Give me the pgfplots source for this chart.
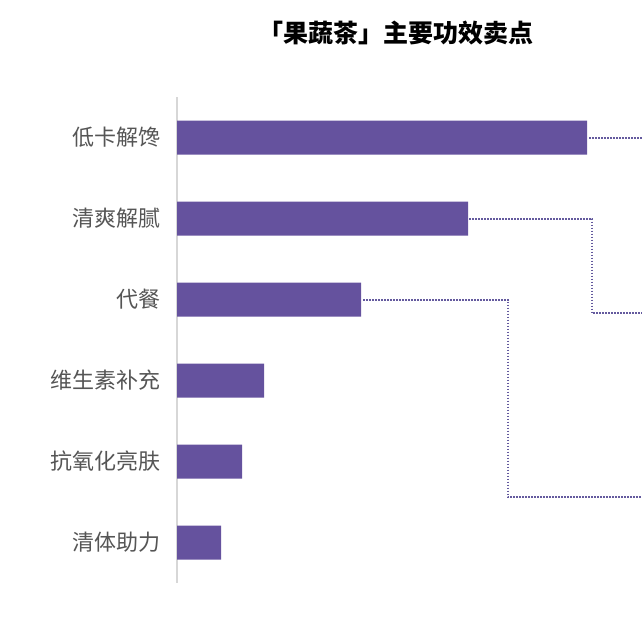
\documentclass[border=0pt]{standalone}
\usepackage{fontspec}
\usepackage{pgfplots}
\pgfplotsset{compat=1.18}
\newfontfamily\cjk{Noto Sans CJK SC}
\definecolor{bar}{RGB}{101,82,158}
\definecolor{lbl}{RGB}{85,85,85}
\definecolor{axl}{RGB}{215,215,215}
\definecolor{conn}{RGB}{100,90,158}

\begin{document}
\begin{tikzpicture}[x=1pt,y=1pt]
\useasboundingbox (0,0) rectangle (642,-621);
\node[font=\cjk\bfseries\fontsize{25}{29}\selectfont, anchor=center] at (396,-33) {「果蔬茶」主要功效卖点};
\begin{axis}[
    at={(177pt,-97pt)}, anchor=north west,
    scale only axis, width=465pt, height=486pt,
    xmin=0, xmax=465, ymin=-0.5, ymax=5.5,
    y dir=reverse,
    axis x line=none,
    axis y line*=left,
    y axis line style={axl, line width=1.8pt, -},
    ytick={0,1,2,3,4,5},
    yticklabels={低卡解馋,清爽解腻,代餐,维生素补充,抗氧化亮肤,清体助力},
    yticklabel style={font=\cjk\fontsize{22}{25}\selectfont, text=lbl, xshift=-13pt},
    major tick length=0pt,
    clip=false,
  ]
\addplot[xbar, bar width=34pt, fill=bar, draw=none, bar shift=0pt]
  coordinates {(410,0) (291,1) (184,2) (87,3) (65,4) (44,5)};
\addplot[conn, line width=2pt, dash pattern=on 1.6pt off 1.4pt, no marks] coordinates {(412,0) (465,0)};
\addplot[conn, line width=2pt, dash pattern=on 1.6pt off 1.4pt, no marks] coordinates {(292,1) (415,1) (415,2.17) (465,2.17)};
\addplot[conn, line width=2pt, dash pattern=on 1.6pt off 1.4pt, no marks] coordinates {(186,2) (331,2) (331,4.44) (465,4.44)};
\end{axis}
\end{tikzpicture}
\end{document}
